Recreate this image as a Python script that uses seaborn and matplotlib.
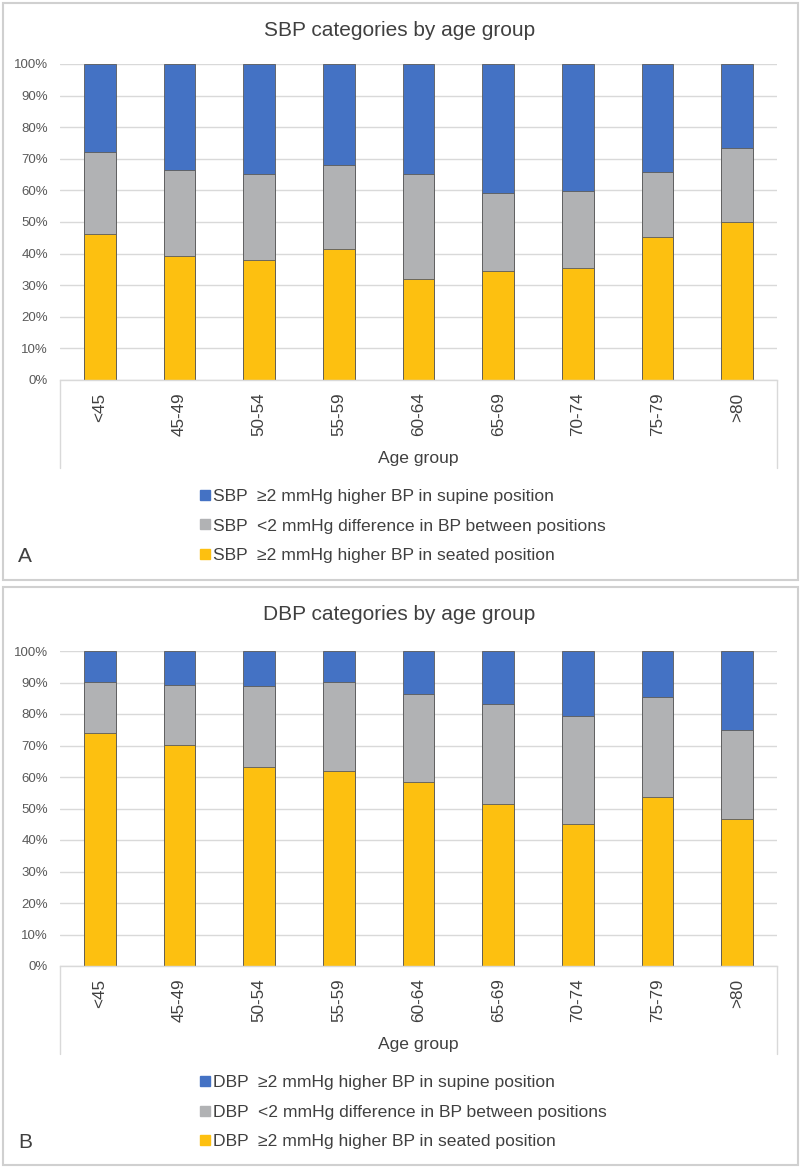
import numpy as np
import pandas as pd
import matplotlib
matplotlib.use("Agg")
import matplotlib.pyplot as plt
from matplotlib.patches import Rectangle
from matplotlib.lines import Line2D
import seaborn as sns

age_groups = ["<45", "45-49", "50-54", "55-59", "60-64", "65-69", "70-74", "75-79", ">80"]

sbp_seated = [46.1, 39.1, 37.9, 41.5, 31.9, 34.6, 35.4, 45.1, 50.1]
sbp_nodiff = [26.0, 27.4, 27.3, 26.5, 33.3, 24.7, 24.5, 20.8, 23.3]
sbp_supine = [27.9, 33.5, 34.8, 32.0, 34.8, 40.7, 40.1, 34.1, 26.6]

dbp_seated = [74.0, 70.2, 63.2, 61.9, 58.4, 51.3, 45.0, 53.8, 46.6]
dbp_nodiff = [16.1, 19.0, 25.7, 28.2, 27.8, 31.8, 34.4, 31.7, 28.2]
dbp_supine = [9.9, 10.8, 11.1, 9.9, 13.8, 16.9, 20.6, 14.5, 25.2]

titles = ["SBP categories by age group", "DBP categories by age group"]
prefixes = ["SBP", "DBP"]
panel_letters = ["A", "B"]
series_labels = ["≥2 mmHg higher BP in supine position",
                 "<2 mmHg difference in BP between positions",
                 "≥2 mmHg higher BP in seated position"]

C_BLUE = "#4472C4"
C_GREY = "#B1B2B4"
C_YEL = "#FDC010"
EDGE = "#5a5a5a"
GRID = "#D9D9D9"
TXT = "#404040"

sns.set_theme(style="white")
plt.rcParams["font.family"] = ["Liberation Sans", "DejaVu Sans"]

W, H = 800, 1167
fig = plt.figure(figsize=(W / 100, H / 100), dpi=100)
fig.patch.set_facecolor("white")

def fx(px):
    return px / W

def fy(py):
    return 1 - py / H

panels = [
    dict(seated=sbp_seated, nodiff=sbp_nodiff, supine=sbp_supine, top=3, bottom=580,
         ax_top=64, ax_bot=380),
    dict(seated=dbp_seated, nodiff=dbp_nodiff, supine=dbp_supine, top=587, bottom=1165,
         ax_top=651, ax_bot=966),
]

ax_left, ax_right = 60, 777

for i, p in enumerate(panels):
    # panel border
    fig.add_artist(Rectangle((fx(2.5), fy(p["bottom"])), fx(795), (p["bottom"] - p["top"]) / H,
                             transform=fig.transFigure, fill=False, edgecolor="#D0D0D0",
                             linewidth=1.5))
    ax = fig.add_axes([fx(ax_left), fy(p["ax_bot"]), fx(ax_right - ax_left),
                       (p["ax_bot"] - p["ax_top"]) / H])
    df = pd.DataFrame({
        "age": age_groups,
        "seated": p["seated"],
        "nodiff": p["nodiff"],
        "supine": p["supine"],
    })
    df["c2"] = df["seated"] + df["nodiff"]
    df["c3"] = df["c2"] + df["supine"]
    ax.set_axisbelow(True)
    ax.yaxis.grid(True, color=GRID, linewidth=1.0)
    for col, color in [("c3", C_BLUE), ("c2", C_GREY), ("seated", C_YEL)]:
        sns.barplot(data=df, x="age", y=col, color=color, width=0.4, edgecolor=EDGE,
                    linewidth=0.6, saturation=1, ax=ax, order=age_groups)
    ax.set_ylim(0, 100)
    ax.set_xlim(-0.5, len(age_groups) - 0.5)
    ax.set_yticks(np.arange(0, 101, 10))
    ax.set_yticklabels([f"{v}%" for v in range(0, 101, 10)], fontsize=9.5, color="#595959")
    ax.set_xticks(range(len(age_groups)))
    ax.set_xticklabels(age_groups, rotation=90, fontsize=12.3, color=TXT)
    ax.tick_params(axis="y", length=0, pad=8.6)
    ax.tick_params(axis="x", length=0, pad=9)
    ax.set_xlabel("")
    ax.set_ylabel("")
    for s in ["top", "right", "left"]:
        ax.spines[s].set_visible(False)
    ax.spines["bottom"].set_color(GRID)
    ax.spines["bottom"].set_linewidth(1.0)
    # category axis side lines
    for xp in [ax_left, ax_right]:
        fig.add_artist(Line2D([fx(xp), fx(xp)], [fy(p["ax_bot"]), fy(p["ax_bot"] + 88)],
                              transform=fig.transFigure, color=GRID, linewidth=1.0))
    fig.text(0.499, fy(p["top"] + 27), titles[i], ha="center", va="center", fontsize=15,
             color=TXT)
    fig.text(fx(418), fy(p["ax_bot"] + 78), "Age group", ha="center", va="center",
             fontsize=12.6, color=TXT)
    fig.text(fx(25), fy(p["ax_bot"] + 177), panel_letters[i], ha="center", va="center",
             fontsize=15, color=TXT)
    handles = [Line2D([0], [0], marker="s", linestyle="none", markersize=7.5,
                      markerfacecolor=c, markeredgecolor=c)
               for c in [C_BLUE, C_GREY, C_YEL]]
    labels = [f"{prefixes[i]}  {s}" for s in series_labels]
    fig.legend(handles, labels, loc="center left",
               bbox_to_anchor=(fx(191), fy(p["ax_bot"] + 146)),
               frameon=False, fontsize=12.6, labelspacing=0.83, handletextpad=0.04,
               handlelength=0.8, labelcolor=TXT, borderaxespad=0)

fig.savefig("out.png", dpi=100, facecolor="white")
